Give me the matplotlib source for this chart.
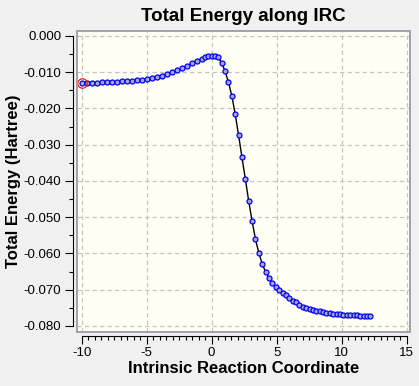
import numpy as np
import matplotlib.pyplot as plt
from matplotlib.patches import Rectangle
from matplotlib.ticker import MultipleLocator

plt.rcParams['font.family'] = ['Liberation Sans', 'DejaVu Sans']
plt.rcParams['axes.unicode_minus'] = False

# IRC points (reaction coordinate, total energy in Hartree)
irc = np.array([-10.0, -9.62, -9.23, -8.85, -8.46, -8.08, -7.69, -7.31, -6.92, -6.54,
                -6.15, -5.77, -5.38, -5.0, -4.62, -4.23, -3.85, -3.46, -3.08, -2.69,
                -2.31, -1.92, -1.54, -1.15, -0.77, -0.51, -0.26, 0.0, 0.26, 0.51,
                0.77, 1.03, 1.29, 1.55, 1.81, 2.07, 2.33, 2.59, 2.85, 3.11,
                3.37, 3.63, 3.89, 4.15, 4.41, 4.67, 4.93, 5.19, 5.45, 5.71,
                5.97, 6.23, 6.49, 6.75, 7.01, 7.27, 7.53, 7.79, 8.05, 8.31,
                8.57, 8.83, 9.09, 9.35, 9.61, 9.87, 10.13, 10.39, 10.65, 10.91,
                11.17, 11.43, 11.69, 11.95, 12.21])

energy = np.array([-0.01305, -0.01300, -0.01298, -0.01292, -0.01285, -0.01280, -0.01275, -0.01268, -0.01258, -0.01248,
                   -0.01235, -0.01220, -0.01205, -0.01186, -0.01160, -0.01128, -0.01095, -0.01050, -0.01005, -0.00950,
                   -0.00892, -0.00830, -0.00757, -0.00685, -0.00625, -0.00575, -0.00548, -0.00543, -0.00550, -0.00590,
                   -0.00753, -0.00970, -0.01278, -0.01655, -0.02160, -0.02740, -0.03350, -0.03950, -0.04560, -0.05110,
                   -0.05610, -0.05990, -0.06290, -0.06510, -0.06680, -0.06820, -0.06930, -0.07020, -0.07100, -0.07150,
                   -0.07240, -0.07300, -0.07340, -0.07430, -0.07470, -0.07500, -0.07530, -0.07560, -0.07580, -0.07590,
                   -0.07610, -0.07630, -0.07640, -0.07670, -0.07680, -0.07680, -0.07690, -0.07710, -0.07710, -0.07710,
                   -0.07710, -0.07720, -0.07730, -0.07730, -0.07730])

fig = plt.figure(figsize=(4.19, 3.86), dpi=100, facecolor='#f0f0f0')
ax = fig.add_axes([0.183, 0.14, 0.7955, 0.78])
ax.set_facecolor('#fffff6')

ax.set_xlim(-10.385, 15.255)
ax.set_ylim(-0.08166, 0.00138)

# plot box border (axis lines sit apart from it)
for s in ['top', 'right']:
    ax.spines[s].set_visible(False)
ax.add_patch(Rectangle((0, 0), 1, 1, transform=ax.transAxes, fill=False,
                       edgecolor='#9a9aa6', linewidth=1.3, clip_on=False, zorder=5))
ax.spines['left'].set_position(('outward', 3))
ax.spines['bottom'].set_position(('outward', 3))
ax.spines['left'].set_bounds(-0.08, 0.0)
ax.spines['bottom'].set_bounds(-10, 15)
ax.spines['left'].set_linewidth(0.8)
ax.spines['bottom'].set_linewidth(0.8)

ax.xaxis.set_major_locator(MultipleLocator(5))
ax.xaxis.set_minor_locator(MultipleLocator(0.5))
ax.yaxis.set_major_locator(MultipleLocator(0.01))
ax.yaxis.set_minor_locator(MultipleLocator(0.005))
ax.yaxis.set_major_formatter(plt.FormatStrFormatter('%.3f'))
ax.tick_params(which='major', length=5.5, width=0.8, labelsize=9.5, pad=2.5)
ax.tick_params(which='minor', length=3.2, width=0.8)

ax.grid(True, which='major', color='#c4c4c4', linestyle=(0, (3.5, 2.5)), linewidth=0.9)
ax.set_axisbelow(True)

ax.plot(irc, energy, color='black', linewidth=1.0, marker='o', markersize=3.6,
        markerfacecolor='#a8a8c4', markeredgecolor='#0000ff', markeredgewidth=0.9, zorder=3)
ax.plot(irc[0], energy[0], marker='o', markersize=6.8, markerfacecolor='none',
        markeredgecolor='red', markeredgewidth=0.8, zorder=4, linestyle='none')

ax.set_title('Total Energy along IRC', fontsize=13.5, fontweight='bold', pad=7)
ax.set_xlabel('Intrinsic Reaction Coordinate', fontsize=12, fontweight='bold', labelpad=1)
ax.set_ylabel('Total Energy (Hartree)', fontsize=12, fontweight='bold', labelpad=2)

fig.savefig('out.png', dpi=100, facecolor=fig.get_facecolor())
